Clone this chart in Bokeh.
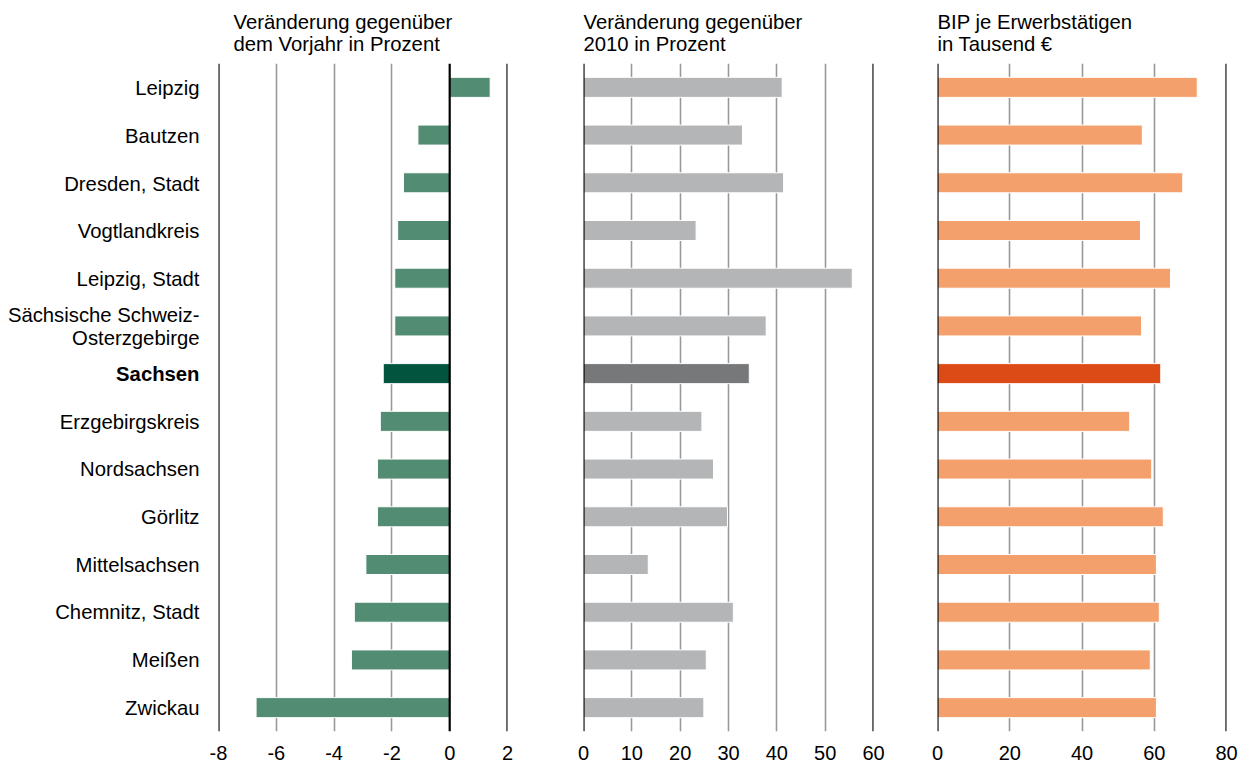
from bokeh.plotting import figure
from bokeh.layouts import row
from bokeh.models import FactorRange, Range1d, FixedTicker, ColumnDataSource, Span
from bokeh.core.properties import value
from bokeh.embed import file_html
from bokeh.resources import INLINE

categories = ["Leipzig", "Bautzen", "Dresden, Stadt", "Vogtlandkreis", "Leipzig, Stadt",
              "Sächsische Schweiz-Osterzgebirge", "Sachsen", "Erzgebirgskreis", "Nordsachsen",
              "Görlitz", "Mittelsachsen", "Chemnitz, Stadt", "Meißen", "Zwickau"]
label_texts = ["Leipzig", "Bautzen", "Dresden, Stadt", "Vogtlandkreis", "Leipzig, Stadt",
               "Sächsische Schweiz-\nOsterzgebirge", "Sachsen", "Erzgebirgskreis", "Nordsachsen",
               "Görlitz", "Mittelsachsen", "Chemnitz, Stadt", "Meißen", "Zwickau"]
highlight = "Sachsen"

change_prev_year = [1.4, -1.1, -1.6, -1.8, -1.9, -1.9, -2.3, -2.4, -2.5, -2.5, -2.9, -3.3, -3.4, -6.7]
change_since_2010 = [41.1, 32.9, 41.4, 23.3, 55.6, 37.8, 34.3, 24.5, 26.9, 29.8, 13.4, 31.0, 25.4, 24.9]
gdp_per_worker = [71.9, 56.7, 67.9, 56.2, 64.5, 56.5, 61.8, 53.2, 59.3, 62.5, 60.6, 61.4, 58.9, 60.6]

titles = ["Veränderung gegenüber\ndem Vorjahr in Prozent",
          "Veränderung gegenüber\n2010 in Prozent",
          "BIP je Erwerbstätigen\nin Tausend €"]
ranges = [(-8, 2), (0, 60), (0, 80)]
inner_ticks = [[-6, -4, -2], [10, 20, 30, 40, 50], [20, 40, 60]]
edge_ticks = [[-8, 0, 2], [0, 60], [0, 80]]
all_ticks = [[-8, -6, -4, -2, 0, 2], [0, 10, 20, 30, 40, 50, 60], [0, 20, 40, 60, 80]]
base_colors = ["#528c72", "#b4b5b6", "#f3a06c"]
hi_colors = ["#03543f", "#77787a", "#dc4a16"]
title_offsets = [15, 0, 0]
borders = [(15, 30), (46, 30), (34, 18)]
frame_widths = [289, 290, 289]

FONT = "Liberation Sans"
FRAME_H = 668
TOP = 62
BOTTOM = 32

yr = FactorRange(factors=categories[::-1], range_padding=0)

# label column
lab = figure(width=203, height=TOP + FRAME_H + BOTTOM, y_range=yr, x_range=Range1d(0, 1),
             output_backend="svg", toolbar_location=None,
             min_border_left=0, min_border_right=0, min_border_top=TOP, min_border_bottom=BOTTOM)
lab.axis.visible = False
lab.grid.visible = False
lab.outline_line_color = None
lab_src = ColumnDataSource(dict(y=categories, text=label_texts,
                                style=["bold" if c == highlight else "normal" for c in categories]))
lab.text(x=1, y="y", text="text", source=lab_src, text_align="right", text_baseline="middle",
         x_offset=-4, y_offset=1, text_font=value(FONT), text_font_size="20.3px",
         text_font_style="style", text_color="#000000", text_line_height=1.08)

figs = [lab]
series = [change_prev_year, change_since_2010, gdp_per_worker]
for i in range(3):
    bl, br = borders[i]
    p = figure(frame_width=frame_widths[i], frame_height=FRAME_H, y_range=yr,
               x_range=Range1d(*ranges[i]), output_backend="svg", toolbar_location=None,
               min_border_left=bl, min_border_right=br, min_border_top=TOP, min_border_bottom=BOTTOM,
               title=titles[i])
    p.title.align = "left"
    p.title.offset = title_offsets[i]
    p.title.text_font = FONT
    p.title.text_font_size = "20.3px"
    p.title.text_font_style = "normal"
    p.title.text_line_height = 1.0
    p.title.text_color = "#000000"
    p.title.standoff = 17
    p.outline_line_color = None
    p.yaxis.visible = False
    p.ygrid.visible = False
    p.xgrid.ticker = FixedTicker(ticks=inner_ticks[i])
    p.xgrid.grid_line_color = "#999999"
    p.xgrid.grid_line_width = 1.6
    p.xaxis.ticker = FixedTicker(ticks=all_ticks[i])
    p.xaxis.major_label_overrides = {t: str(t) for t in all_ticks[i]}
    p.xaxis.axis_line_color = None
    p.xaxis.major_tick_line_color = None
    p.xaxis.minor_tick_line_color = None
    p.xaxis.major_label_text_font = FONT
    p.xaxis.major_label_text_font_size = "20px"
    p.xaxis.major_label_text_color = "#000000"
    p.xaxis.major_label_standoff = 8
    src = ColumnDataSource(dict(
        y=categories, v=series[i],
        c=[hi_colors[i] if c == highlight else base_colors[i] for c in categories]))
    p.hbar(y="y", left=0, right="v", height=0.42, fill_color="c", line_color="white",
           line_width=1, source=src)
    for loc in edge_ticks[i]:
        p.add_layout(Span(location=loc, dimension="height", line_color="#000000", line_width=2.2))
    figs.append(p)

layout = row(*figs, spacing=0)
open("out.html", "w").write(file_html(layout, INLINE))
